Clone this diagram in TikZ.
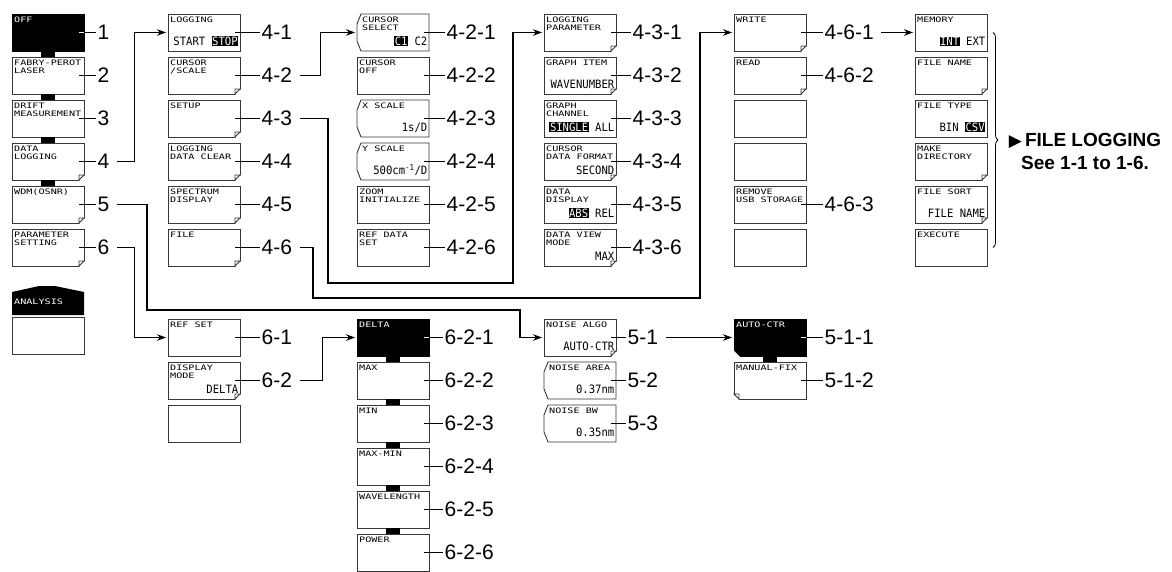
\documentclass[tikz,border=0pt]{standalone}
\usepackage{fontspec}
\setmainfont{Liberation Sans}
\newfontfamily\keyfont[FakeStretch=1.35]{DejaVu Sans Mono}
\newfontfamily\valfont[FakeStretch=0.92]{DejaVu Sans Mono}
\newfontfamily\symfont{DejaVu Sans}
\usetikzlibrary{arrows.meta,positioning,decorations.pathreplacing}
\definecolor{keyedge}{RGB}{55,55,55}
\newcommand{\invtxt}[1]{{\setlength{\fboxsep}{0.6pt}\colorbox{black}{\textcolor{white}{#1}}}}
\tikzset{
  keyline/.style={draw=keyedge, line width=.9pt},
  keytxt/.style={font=\keyfont\fontsize{7.5}{7.5}\selectfont},
  key/.style={rectangle, keyline, fill=white, minimum width=72pt, minimum height=37pt,
              inner sep=0pt, outer sep=0pt},
  keyon/.style={key, draw=black, fill=black},
  notch/.style={key, draw=none},
  keytitle/.style={keytxt, anchor=north west, inner sep=0pt, xshift=2pt, yshift=-3pt, align=left},
  title/.style={label={[keytitle]north west:#1}},
  ntitle/.style={label={[keytitle, xshift=3pt]north west:#1}},
  ontitle/.style={label={[keytitle, text=white]north west:#1}},
  value/.style={label={[anchor=base east, inner sep=0pt, xshift=-1.5pt, yshift=5.5pt,
                font=\valfont\fontsize{11.5}{11.5}\selectfont]south east:#1}}
}

\begin{document}
\begin{tikzpicture}[x=1pt, y=-1pt, node distance=6pt,
  flow/.style={-{Stealth[length=9pt,width=6.5pt]}, line width=1.1pt, shorten <=6pt, shorten >=2pt},
  lead/.style={line width=1pt},
  num/.style={font=\fontsize{21}{21}\selectfont, inner sep=1.5pt}]
  \useasboundingbox (0,0) rectangle (1172,572);
  % top menu
  \node[keyon, ontitle=OFF] (a1) at (48,32.5) {};
  \node[key, below=of a1, title={FABRY-PEROT\\LASER}] (a2) {};
  \node[key, below=of a2, title={DRIFT\\MEASUREMENT}] (a3) {};
  \node[key, below=of a3, title={DATA\\LOGGING}] (a4) {};
  \node[key, below=of a4, title={WDM(OSNR)}] (a5) {};
  \node[key, below=of a5, title={PARAMETER\\SETTING}] (a6) {};
  \node[key] (an) at (48,335.5) {};
  \fill ([yshift=2pt]an.north west) -- ([yshift=25pt]an.north west) -- ([xshift=27pt,yshift=31pt]an.north west)
    -- ([xshift=-29pt,yshift=31pt]an.north east) -- ([yshift=25pt]an.north east) -- ([yshift=2pt]an.north east) -- cycle;
  \node[keytxt, anchor=west, inner sep=0pt, text=white] (antxt) at ([xshift=2pt,yshift=15pt]an.north west) {ANALYSIS};
  % data logging
  \node[key, title=LOGGING, value={START \invtxt{STOP}}] (b1) at (204,32.5) {};
  \node[key, below=of b1, title={CURSOR\\/SCALE}] (b2) {};
  \node[key, below=of b2, title=SETUP] (b3) {};
  \node[key, below=of b3, title={LOGGING\\DATA CLEAR}] (b4) {};
  \node[key, below=of b4, title={SPECTRUM\\DISPLAY}] (b5) {};
  \node[key, below=of b5, title=FILE] (b6) {};
  % cursor/scale
  \node[notch, ntitle={CURSOR\\SELECT}, value={\invtxt{C1} C2}] (c1) at (393,32.5) {};
  \node[key, below=of c1, title={CURSOR\\OFF}] (c2) {};
  \node[notch, below=of c2, ntitle={X SCALE}, value=1s/D] (c3) {};
  \node[notch, below=of c3, ntitle={Y SCALE}, value={500cm\textsuperscript{-1}/D}] (c4) {};
  \node[key, below=of c4, title={ZOOM\\INITIALIZE}] (c5) {};
  \node[key, below=of c5, title={REF DATA\\SET}] (c6) {};
  % setup
  \node[key, title={LOGGING\\PARAMETER}] (d1) at (580,32.5) {};
  \node[key, below=of d1, title={GRAPH ITEM}, value=WAVENUMBER] (d2) {};
  \node[key, below=of d2, title={GRAPH\\CHANNEL}, value={\invtxt{SINGLE} ALL}] (d3) {};
  \node[key, below=of d3, title={CURSOR\\DATA FORMAT}, value=SECOND] (d4) {};
  \node[key, below=of d4, title={DATA\\DISPLAY}, value={\invtxt{ABS} REL}] (d5) {};
  \node[key, below=of d5, title={DATA VIEW\\MODE}, value=MAX] (d6) {};
  % file
  \node[key, title=WRITE] (e1) at (770,32.5) {};
  \node[key, below=of e1, title=READ] (e2) {};
  \node[key, below=of e2] (e3) {};
  \node[key, below=of e3] (e4) {};
  \node[key, below=of e4, title={REMOVE\\USB STORAGE}] (e5) {};
  \node[key, below=of e5] (e6) {};
  % write
  \node[key, title=MEMORY, value={\invtxt{INT} EXT}] (f1) at (951,32.5) {};
  \node[key, below=of f1, title={FILE NAME}] (f2) {};
  \node[key, below=of f2, title={FILE TYPE}, value={BIN \invtxt{CSV}}] (f3) {};
  \node[key, below=of f3, title={MAKE\\DIRECTORY}] (f4) {};
  \node[key, below=of f4, title={FILE SORT}, value={FILE NAME}] (f5) {};
  \node[key, below=of f5, title=EXECUTE] (f6) {};
  % parameter setting
  \node[key, title={REF SET}] (r1) at (204,337.5) {};
  \node[key, below=of r1, title={DISPLAY\\MODE}, value=DELTA] (r2) {};
  \node[key, below=of r2] (r3) {};
  \node[keyon, ontitle=DELTA] (g1) at (393,337.5) {};
  \node[key, below=of g1, title=MAX] (g2) {};
  \node[key, below=of g2, title=MIN] (g3) {};
  \node[key, below=of g3, title=MAX-MIN] (g4) {};
  \node[key, below=of g4, title=WAVELENGTH] (g5) {};
  \node[key, below=of g5, title=POWER] (g6) {};
  % wdm
  \node[key, title={NOISE ALGO}, value=AUTO-CTR] (n1) at (580,337.5) {};
  \node[notch, below=of n1, ntitle={NOISE AREA}, value=0.37nm] (n2) {};
  \node[notch, below=of n2, ntitle={NOISE BW}, value=0.35nm] (n3) {};
  \node[keyon, ontitle=AUTO-CTR] (h1) at (770,337.5) {};
  \node[key, below=of h1, title=MANUAL-FIX] (h2) {};
  % folded corners
  \foreach \bx in {a4,a5,a6,b2,b3,b4,b5,b6,d1,d2,d4,d6,e1,e2,f2,f4,f5,r2,n1}
  {
    \fill[white] ([xshift=-5pt,yshift=-1pt]\bx.south east) -- ([xshift=1pt,yshift=-1pt]\bx.south east)
      -- ([xshift=1pt,yshift=5pt]\bx.south east) -- cycle;
    \draw[keyline] ([xshift=-5pt]\bx.south east) -- ++(0,5pt) -- ([yshift=5pt]\bx.south east) -- cycle;
  }
  \fill[white] ([xshift=5pt,yshift=-1pt]h2.south west) -- ([xshift=-1pt,yshift=-1pt]h2.south west)
    -- ([xshift=-1pt,yshift=5pt]h2.south west) -- cycle;
  \draw[keyline] ([xshift=5pt]h2.south west) -- ++(0,5pt) -- ([yshift=5pt]h2.south west) -- cycle;
  \fill[white] ([xshift=6pt,yshift=-1pt]h1.south west) -- ([xshift=-1pt,yshift=-1pt]h1.south west)
    -- ([xshift=-1pt,yshift=6pt]h1.south west) -- cycle;
  % bracket-sided keys
  \foreach \bx in {c1,c3,c4,n2,n3}
    \draw[keyline] ([xshift=4pt]\bx.north west) -- (\bx.north east) -- (\bx.south east)
      -- ([xshift=4pt]\bx.south west) -- ([yshift=10pt]\bx.south west) -- ([yshift=-10pt]\bx.north west) -- cycle;
  % tabs between linked keys
  \foreach \u/\v in {a1/a2,a2/a3,a3/a4,a4/a5,g1/g2,g2/g3,g3/g4,g4/g5,g5/g6,h1/h2}
    \fill ([xshift=-7pt]\u.south) rectangle ([xshift=7pt]\v.north);
  % numbers
  \foreach \bx/\lab/\gap in {a1/1/12pt, a2/2/12pt, a3/3/12pt, a4/4/12pt, a5/5/12pt, a6/6/12pt,
      b1/4-1/20pt, b2/4-2/20pt, b3/4-3/20pt, b4/4-4/20pt, b5/4-5/20pt, b6/4-6/20pt,
      c1/4-2-1/16pt, c2/4-2-2/16pt, c3/4-2-3/16pt, c4/4-2-4/16pt, c5/4-2-5/16pt, c6/4-2-6/16pt,
      d1/4-3-1/15pt, d2/4-3-2/15pt, d3/4-3-3/15pt, d4/4-3-4/15pt, d5/4-3-5/15pt, d6/4-3-6/15pt,
      e1/4-6-1/17pt, e2/4-6-2/17pt, e5/4-6-3/17pt,
      r1/6-1/20pt, r2/6-2/20pt,
      g1/6-2-1/14pt, g2/6-2-2/14pt, g3/6-2-3/14pt, g4/6-2-4/14pt, g5/6-2-5/14pt, g6/6-2-6/14pt,
      n1/5-1/10pt, n2/5-2/10pt, n3/5-3/10pt,
      h1/5-1-1/17pt, h2/5-1-2/17pt}
  {
    \node[num, node distance=\gap, right=of \bx] (l\bx) {\lab};
    \draw[lead] ([xshift=-5pt]\bx.east) -- (l\bx);
  }
  \foreach \bx in {a1,g1,h1}
    \draw[lead, white] ([xshift=-5pt]\bx.east) -- ([xshift=-.5pt]\bx.east);
  % links
  \draw[flow] (la4.east) -- ++(23pt,0) |- (b1.west);
  \draw[flow] (la5.east) -| (147,310) -| ([xshift=-24pt]n1.west) -- (n1.west);
  \draw[flow] (la6.east) -- ++(23pt,0) |- (r1.west);
  \draw[flow] (lb2.east) -- ++(27pt,0) |- (c1.west);
  \draw[flow] (lb3.east) -| (328,283) -| ([xshift=-31pt]d1.west) -- (d1.west);
  \draw[flow] (lb6.east) -| (313,298) -| ([xshift=-34pt]e1.west) -- (e1.west);
  \draw[flow] (lr2.east) -- ++(29pt,0) |- (g1.west);
  \draw[flow] (le1.east) -- (f1.west);
  \draw[flow] (ln1.east) -- (h1.west);
  \draw[line width=.8pt, decorate, decoration={brace, amplitude=5pt}] ([xshift=6pt]f1.east) -- ([xshift=6pt]f6.east);
  \node[font=\bfseries\fontsize{19}{23}\selectfont, align=center] (note) at (1085,151.5)
    {{\symfont\fontsize{17}{17}\selectfont ▶}\,FILE LOGGING\\See 1-1 to 1-6.};
\end{tikzpicture}
\end{document}
